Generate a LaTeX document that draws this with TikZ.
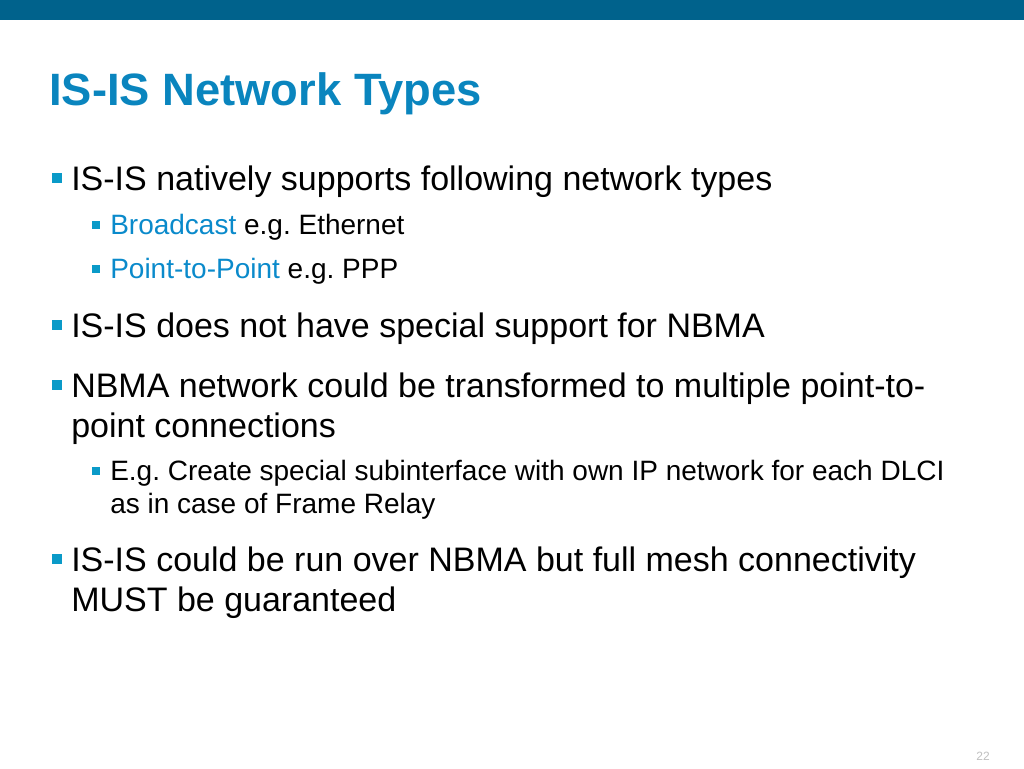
\documentclass[tikz,border=0pt]{standalone}
\usepackage{fontspec}
\setmainfont{Liberation Sans}
\definecolor{barblue}{HTML}{00628C}
\definecolor{titleblue}{HTML}{0A85BE}
\definecolor{hl}{HTML}{0A8ACB}
\definecolor{bul}{HTML}{0A9AC8}
\frenchspacing
\begin{document}
\begin{tikzpicture}[x=0.75pt,y=-0.75pt,
  l1/.style={anchor=base west,inner sep=0,font=\fontsize{25.5}{30}\selectfont},
  l2/.style={anchor=base west,inner sep=0,font=\fontsize{21}{25}\selectfont},
  bA/.style={fill=bul,minimum size=7.5pt,inner sep=0},
  bB/.style={fill=bul,minimum size=6pt,inner sep=0}]
\useasboundingbox (0,0) rectangle (1024,768);
\fill[barblue] (0,0) rectangle (1024,20);
\node[anchor=base west,inner sep=0,text=titleblue,font=\fontsize{34}{40}\selectfont\bfseries] (title) at (49,105) {IS-IS Network Types};
\node[bA] (b1) at (57,178) {};
\node[l1] (t1) at (71,190) {IS-IS natively supports following network types};
\node[bB] (b2) at (96,225) {};
\node[l2] (t2) at (110,234) {\textcolor{hl}{Broadcast} e.g. Ethernet};
\node[bB] (b3) at (96,269) {};
\node[l2] (t3) at (110,278) {\textcolor{hl}{Point-to-Point} e.g. PPP};
\node[bA] (b4) at (57,325) {};
\node[l1] (t4) at (71,337) {IS-IS does not have special support for NBMA};
\node[bA] (b5) at (57,385) {};
\node[l1] (t5) at (71,397) {NBMA network could be transformed to multiple point-to-};
\node[l1] (t5b) at (71,437) {point connections};
\node[bB] (b6) at (96,471) {};
\node[l2] (t6) at (110,480) {E.g. Create special subinterface with own IP network for each DLCI};
\node[l2] (t6b) at (110,513) {as in case of Frame Relay};
\node[bA] (b7) at (57,559) {};
\node[l1] (t7) at (71,571) {IS-IS could be run over NBMA but full mesh connectivity};
\node[l1] (t7b) at (71,611) {MUST be guaranteed};
\node[anchor=base east,inner sep=0,text=black!25,font=\fontsize{9}{10}\selectfont] (pg) at (990,760) {22};
\end{tikzpicture}
\end{document}
